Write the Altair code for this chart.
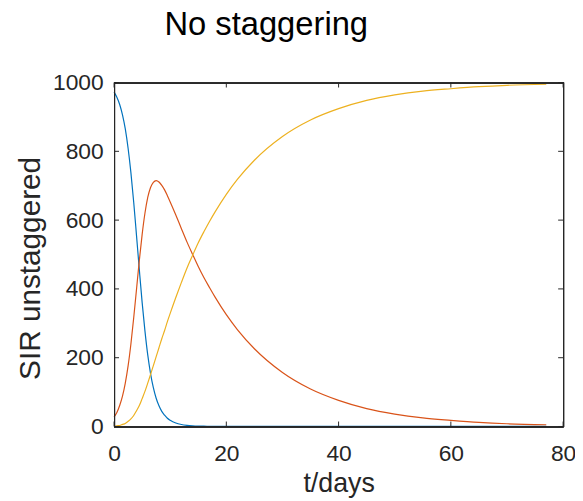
import altair as alt
import pandas as pd

# ---- data ----
t_days = [0, 0.5, 1, 1.5, 2, 2.5, 3, 3.5, 4, 4.5, 5, 5.5, 6, 6.5, 7, 7.5, 8, 8.5, 9, 9.5,
          10, 11, 12, 13, 14, 15, 16, 17, 18, 20, 22, 25, 30, 35, 40, 45, 50, 55, 60, 65, 70, 77]
susceptible = [972, 957, 936, 906, 865, 809, 738, 652, 555, 456, 361, 278, 208, 154, 113, 82, 60, 44, 33, 24,
               18, 10, 5.8, 3.5, 2.2, 1.4, 0.9, 0.6, 0.4, 0.2, 0.1, 0.1, 0.1, 0.1, 0.1, 0.1, 0.1, 0.1, 0.1, 0.1, 0.1, 0.1]
infected = [28, 41, 61, 88, 126, 176, 240, 316, 399, 483, 558, 620, 666, 695, 710, 715, 711, 701, 688, 671,
            653, 615, 575, 536, 500, 465, 433, 404, 376, 325, 281, 226, 157, 109, 76, 52, 36, 25, 18, 12, 8, 5]
recovered = [0, 2, 3, 6, 9, 15, 22, 32, 46, 61, 81, 102, 126, 151, 177, 203, 229, 255, 279, 305,
             329, 375, 419, 461, 498, 534, 566, 596, 624, 675, 719, 774, 843, 891, 924, 948, 964, 975, 982, 988, 992, 995]

series_names = ["S", "I", "R"]
series_colors = ["#0072BD", "#D95319", "#EDB120"]

x_ticks = [0, 20, 40, 60, 80]
y_ticks = [0, 200, 400, 600, 800, 1000]

W, H = 453, 347
FONT = "Liberation Sans"
AXC = "#262626"

rows = []
for name, vals in zip(series_names, [susceptible, infected, recovered]):
    for t, v in zip(t_days, vals):
        rows.append({"t": t, "value": v, "series": name})
df = pd.DataFrame(rows)

xdf = pd.DataFrame({"t": x_ticks})
ydf = pd.DataFrame({"value": y_ticks})

xscale = alt.Scale(domain=[0, 80], nice=False, zero=False)
yscale = alt.Scale(domain=[0, 1000], nice=False, zero=False)

xaxis = alt.Axis(values=x_ticks, ticks=False, domain=False, grid=False, format="d", labelFlush=False,
                 labelFontSize=23, labelFont=FONT, labelColor=AXC, labelPadding=16,
                 title="t/days", titleFontSize=27, titleFont=FONT, titleFontWeight="normal",
                 titleColor=AXC, titleBaseline="alphabetic", titleY=66)
yaxis = alt.Axis(values=y_ticks, ticks=False, domain=False, grid=False, format="d", labelFlush=False,
                 labelFontSize=23, labelFont=FONT, labelColor=AXC, labelPadding=11,
                 title="SIR unstaggered", titleFontSize=30, titleFont=FONT,
                 titleFontWeight="normal", titleColor=AXC, titleBaseline="alphabetic",
                 titleAngle=270, titleX=-75, titleY=187, titleAlign="center")

lines = alt.Chart(df).mark_line(strokeWidth=1.2, interpolate="monotone").encode(
    x=alt.X("t:Q", scale=xscale, axis=xaxis),
    y=alt.Y("value:Q", scale=yscale, axis=yaxis),
    color=alt.Color("series:N", scale=alt.Scale(domain=series_names, range=series_colors), legend=None),
    detail="series:N",
)

tick_style = dict(color=AXC, strokeWidth=1)
bottom_ticks = alt.Chart(xdf).mark_rule(**tick_style).encode(
    x=alt.X("t:Q", scale=xscale, axis=xaxis), y=alt.value(H), y2=alt.value(H - 5))
top_ticks = alt.Chart(xdf).mark_rule(**tick_style).encode(
    x=alt.X("t:Q", scale=xscale, axis=xaxis), y=alt.value(0), y2=alt.value(5))
left_ticks = alt.Chart(ydf).mark_rule(**tick_style).encode(
    y=alt.Y("value:Q", scale=yscale, axis=yaxis), x=alt.value(0), x2=alt.value(5))
right_ticks = alt.Chart(ydf).mark_rule(**tick_style).encode(
    y=alt.Y("value:Q", scale=yscale, axis=yaxis), x=alt.value(W), x2=alt.value(W - 5))

frame_style = dict(color=AXC, strokeWidth=1)
frame_top = alt.Chart(xdf).mark_rule(**frame_style).encode(
    x=alt.value(0), x2=alt.value(W + 0.5), y=alt.value(0.5))
frame_bottom = alt.Chart(xdf).mark_rule(**frame_style).encode(
    x=alt.value(0), x2=alt.value(W + 0.5), y=alt.value(H + 0.5))
frame_left = alt.Chart(xdf).mark_rule(**frame_style).encode(
    x=alt.value(0.5), y=alt.value(0), y2=alt.value(H + 0.5))
frame_right = alt.Chart(xdf).mark_rule(**frame_style).encode(
    x=alt.value(W + 0.5), y=alt.value(0), y2=alt.value(H + 0.5))

chart = alt.layer(lines, bottom_ticks, top_ticks, left_ticks, right_ticks,
                  frame_top, frame_bottom, frame_left, frame_right).properties(
    width=W, height=H,
    title=alt.TitleParams("No staggering", fontSize=33, font=FONT, fontWeight="normal",
                          color="black", anchor="middle", frame="group", dx=-73,
                          baseline="alphabetic", offset=4),
    autosize=alt.AutoSizeParams(type="none"),
    padding={"left": 107, "top": 73, "right": 12, "bottom": 76},
).configure_view(stroke=None).configure(background="white")

chart.save("out.html", embed_options={"renderer": "svg", "actions": False})
